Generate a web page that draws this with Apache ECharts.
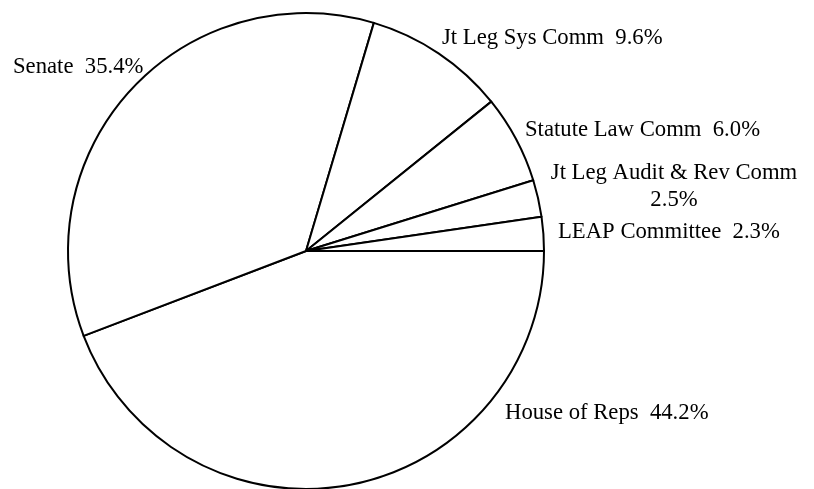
<!DOCTYPE html>
<html>
<head>
<meta charset="utf-8">
<script src="https://cdn.jsdelivr.net/npm/echarts@6/dist/echarts.min.js"></script>
<style>
  html, body { margin: 0; padding: 0; background: #fff; }
  #chart { width: 814px; height: 489px; }
</style>
</head>
<body>
<div id="chart"></div>
<script>
// slices, clockwise from 3 o'clock
const names = ["House of Reps", "Senate", "Jt Leg Sys Comm", "Statute Law Comm", "Jt Leg Audit & Rev Comm", "LEAP Committee"];
const shares = [44.2, 35.4, 9.6, 6.0, 2.5, 2.3];

// where each label sits (x, y, align) - same order as names
const labelSpots = [
  { x: 505, y: 413, align: "left" },
  { x: 13, y: 67, align: "left" },
  { x: 442, y: 38, align: "left" },
  { x: 525, y: 130, align: "left" },
  { x: 674, y: 187, align: "center" },
  { x: 558, y: 232, align: "left" },
];

const myChart = echarts.init(document.getElementById("chart"));
myChart.setOption({
  animation: false,
  textStyle: { fontFamily: "Liberation Serif" },
  series: [
    {
      type: "pie",
      center: [306, 251],
      radius: 238,
      startAngle: 0,
      clockwise: true,
      avoidLabelOverlap: false,
      silent: true,
      itemStyle: {
        color: "#ffffff",
        borderColor: "#000000",
        borderWidth: 2,
      },
      label: {
        show: true,
        position: "outside",
        color: "#000",
        fontFamily: "Liberation Serif",
        fontSize: 22.7,
        lineHeight: 27,
        formatter: function (p) {
          const pct = p.value.toFixed(1) + "%";
          // the long name wraps onto two lines in the original
          return p.dataIndex === 4 ? p.name + "\n" + pct : p.name + "  " + pct;
        },
      },
      labelLine: { show: false },
      labelLayout: function (p) {
        const s = labelSpots[p.dataIndex];
        return { x: s.x, y: s.y, align: s.align, verticalAlign: "middle", hideOverlap: false };
      },
      emphasis: { disabled: true },
      data: names.map((n, i) => ({ name: n, value: shares[i] })),
    },
  ],
});
</script>
</body>
</html>
